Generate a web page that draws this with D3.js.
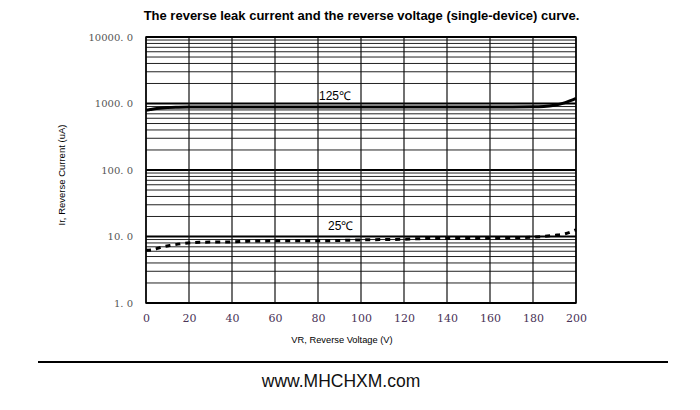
<!DOCTYPE html>
<html><head><meta charset="utf-8">
<script src="https://cdn.jsdelivr.net/npm/d3@7"></script>
<style>body{margin:0;background:#fff}</style>
</head><body>
<svg id="c" width="700" height="410"></svg>
<script>
const xTicks = [0,20,40,60,80,100,120,140,160,180,200];
const yTicks = [1,10,100,1000,10000];
const yTickLabels = ["1. 0","10. 0","100. 0","1000. 0","10000. 0"];
const v125 = [0,2,5,10,15,20,40,60,80,100,120,140,160,180,185,190,195,200];
const i125 = [790,810,840,870,880,885,888,888,888,888,888,888,888,890,900,940,1030,1190];
const v25 = [0,3,7,12,18,25,40,47,60,80,100,120,130,160,180,190,195,200];
const i25 = [6.2,6.3,6.9,7.4,7.9,8.2,8.3,8.5,8.6,8.6,8.9,9.1,9.3,9.4,9.8,10.4,11,12.6];
const series = [
  {name:"125℃", v:v125, i:i125, dash:null, lx:319, ly:100},
  {name:"25℃", v:v25, i:i25, dash:"5,5", lx:328, ly:230}
];

const svg = d3.select("#c");
const L=146, R=576, T=37, B=303;
const x = d3.scaleLinear().domain([0,200]).range([L,R]);
const y = d3.scaleLog().domain([1,10000]).range([B,T]);

// minor horizontal grid
const minors = [];
for (let d=1; d<10000; d*=10) for (let k=2;k<=9;k++) minors.push(d*k);
svg.append("g").selectAll("line").data(minors).join("line")
  .attr("x1",L).attr("x2",R).attr("y1",d=>y(d)).attr("y2",d=>y(d))
  .attr("stroke","#222").attr("stroke-width",1);
svg.append("g").selectAll("line").data(yTicks).join("line")
  .attr("x1",L).attr("x2",R).attr("y1",d=>y(d)).attr("y2",d=>y(d))
  .attr("stroke","#000").attr("stroke-width",1.8);
svg.append("g").selectAll("line").data(xTicks).join("line")
  .attr("x1",d=>x(d)).attr("x2",d=>x(d)).attr("y1",T).attr("y2",B)
  .attr("stroke","#111").attr("stroke-width",1.2);
svg.append("rect").attr("x",L).attr("y",T).attr("width",R-L).attr("height",B-T)
  .attr("fill","none").attr("stroke","#000").attr("stroke-width",1.5);

// axes labels
const xAxis = d3.axisBottom(x).tickValues(xTicks).tickSize(0).tickPadding(11).tickFormat(d3.format("d"));
const gx = svg.append("g").attr("transform",`translate(0,${B})`).call(xAxis);
gx.select(".domain").remove();
gx.selectAll("text").attr("font-family","'DejaVu Serif', serif").attr("font-size",11).attr("fill","#4a3458");

const yAxis = d3.axisLeft(y).tickValues(yTicks).tickSize(0).tickPadding(13)
  .tickFormat((d,i)=>yTickLabels[yTicks.indexOf(d)]);
const gy = svg.append("g").attr("transform",`translate(${L},0)`).call(yAxis);
gy.select(".domain").remove();
gy.selectAll("text").attr("font-family","'DejaVu Serif', serif").attr("font-size",10).attr("fill","#555");

// curves
const line = d3.line().x(d=>x(d[0])).y(d=>y(d[1])).curve(d3.curveMonotoneX);
series.forEach(s=>{
  const pts = s.v.map((v,k)=>[v,s.i[k]]);
  svg.append("path").attr("d",line(pts)).attr("fill","none")
    .attr("stroke","#000").attr("stroke-width",3)
    .attr("stroke-dasharray",s.dash);
  svg.append("text").attr("x",s.lx).attr("y",s.ly).text(s.name)
    .attr("font-family","'Liberation Sans', Arial, sans-serif").attr("font-size",12).attr("fill","#000");
});

// titles
svg.append("text").attr("x",361.5).attr("y",20).attr("text-anchor","middle")
  .attr("font-family","'Liberation Sans', Arial, sans-serif").attr("font-weight","bold").attr("font-size",13)
  .text("The reverse leak current and the reverse voltage (single-device) curve.");
svg.append("text").attr("x",342).attr("y",343).attr("text-anchor","middle")
  .attr("font-family","'Liberation Sans', Arial, sans-serif").attr("font-size",9.3)
  .text("VR, Reverse Voltage (V)");
svg.append("text").attr("transform","translate(65,175) rotate(-90)").attr("text-anchor","middle")
  .attr("font-family","'Liberation Sans', Arial, sans-serif").attr("font-size",9.5)
  .text("Ir, Reverse Current (uA)");

svg.append("line").attr("x1",38).attr("x2",668).attr("y1",362).attr("y2",362)
  .attr("stroke","#000").attr("stroke-width",2);
svg.append("text").attr("x",341).attr("y",387).attr("text-anchor","middle")
  .attr("font-family","'Liberation Sans', Arial, sans-serif").attr("font-size",17.5).attr("fill","#111")
  .text("www.MHCHXM.com");
</script>
</body></html>
